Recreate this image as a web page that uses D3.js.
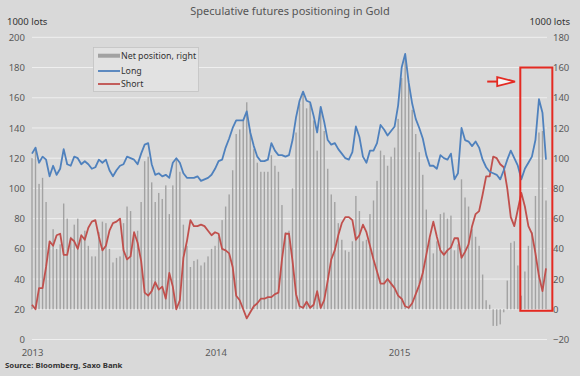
<!DOCTYPE html>
<html><head><meta charset="utf-8">
<script src="https://cdn.jsdelivr.net/npm/d3@7"></script>
<style>
html,body{margin:0;padding:0;background:#d9d9d9;}
svg{display:block;}
text{font-family:"Noto Sans",sans-serif;}
</style></head><body>
<svg id="chart" width="580" height="376"></svg>
<script>
// ---------------- data ----------------
const chartTitle = "Speculative futures positioning in Gold";
const leftUnit = "1000 lots";
const rightUnit = "1000 lots";
const sourceText = "Source: Bloomberg, Saxo Bank";
const firstWeek = "2013-01-01";   // weekly observations start here
const yearLabels = ["2013", "2014", "2015"];
const leftTicks = [0, 20, 40, 60, 80, 100, 120, 140, 160, 180, 200];
const rightTicks = [-20, 0, 20, 40, 60, 80, 100, 120, 140, 160, 180];
const seriesNames = ["Net position, right", "Long", "Short"];

const longPos = [123,127,117,121,119,108,115,109,113,126,
116,115,121,120,116,118,116,113,114,119,
117,119,112,108,112,115,116,121,120,119,
116,123,129,130,116,109,110,108,109,107,
117,120,117,110,107,107,107,108,105,106,
107,109,113,118,119,127,133,140,145,145,
145,151,137,128,121,118,118,119,130,125,
122,122,121,122,132,147,158,164,158,157,
148,137,154,144,132,129,130,126,123,120,
119,124,141,134,121,117,125,125,130,142,
139,135,138,141,155,180,189,170,156,146,
140,133,122,115,115,113,122,120,119,123,
106,110,140,132,131,128,131,127,119,114,
111,110,109,106,112,119,125,120,115,106,
113,117,121,132,159,150,119];

const shortPos = [23,20,34,34,48,65,62,69,70,56,
56,67,65,60,69,66,74,78,79,68,
59,62,72,77,78,80,59,53,55,71,
64,52,31,29,32,38,33,35,27,44,
35,20,26,54,65,79,75,75,76,75,
72,69,71,70,60,59,57,48,29,26,
20,14,18,22,24,27,27,28,28,30,
31,53,70,70,52,30,22,21,25,21,
23,32,21,26,39,53,59,69,77,81,
81,79,66,69,76,71,62,53,45,37,
37,40,37,34,29,27,22,21,24,30,
36,44,56,68,78,68,59,56,59,61,
67,67,54,58,63,75,83,85,96,108,
108,121,120,116,114,100,81,75,86,97,
88,75,70,57,42,32,47];

const netPos = [100,107,83,87,71,43,53,40,43,70,
60,48,56,60,47,52,42,35,35,51,
58,57,40,31,34,35,57,68,65,48,
52,71,98,101,84,71,77,73,82,63,
82,100,91,56,42,28,32,33,29,31,
35,40,42,48,59,68,76,92,116,119,
125,137,119,106,97,91,91,91,102,95,
91,69,51,52,80,117,136,143,133,136,
125,105,133,118,93,76,71,57,46,39,
38,45,75,65,45,46,63,72,85,105,
102,95,101,107,126,153,167,149,132,116,
104,89,66,47,37,45,63,64,60,62,
39,43,86,74,68,53,48,42,23,6,
3,-11,-11,-10,-2,19,44,45,29,9,
25,42,51,75,117,118,72];

// highlight annotation (in data units: week index / right-axis value)
const boxWeeks = [138.7, 147.8];
const boxRight = [-1, 160];
const arrowWeeks = [129.3, 137.2];
const arrowRight = 150.7;

// ---------------- drawing ----------------
const W = 580, H = 376;
const svg = d3.select("#chart");
const bg = "#d9d9d9";
svg.append("rect").attr("width", W).attr("height", H).attr("fill", bg);

const t0 = new Date(firstWeek + "T00:00:00Z");
const dates = longPos.map((_, i) => new Date(t0.getTime() + i * 7 * 864e5));
const x = d3.scaleUtc().domain([dates[0], dates[dates.length - 1]]).range([32, 546]);
const weekX = w => x(new Date(t0.getTime() + w * 7 * 864e5));
const yL = d3.scaleLinear().domain([0, 200]).range([339.5, 37.3]);
const yR = d3.scaleLinear().domain([-20, 180]).range([339.5, 37.3]);

// gridlines
svg.append("g").selectAll("line").data(leftTicks).join("line")
  .attr("x1", 32).attr("x2", 547)
  .attr("y1", d => yL(d)).attr("y2", d => yL(d))
  .attr("stroke", "#efefef").attr("stroke-width", 1);

// axes
const axL = svg.append("g").attr("transform", "translate(26,0)")
  .call(d3.axisLeft(yL).tickValues(leftTicks).tickSize(0).tickPadding(1));
const axR = svg.append("g").attr("transform", "translate(552,0)")
  .call(d3.axisRight(yR).tickValues(rightTicks).tickSize(0).tickPadding(1));
const yearDates = yearLabels.map(y => new Date(y + "-01-01T00:00:00Z"));
const axB = svg.append("g").attr("transform", "translate(0,340)")
  .call(d3.axisBottom(x).tickValues(yearDates).tickFormat(d3.utcFormat("%Y")).tickSize(0).tickPadding(9));
[axL, axR, axB].forEach(g => {
  g.select(".domain").remove();
  g.selectAll("text").attr("font-family", '"Noto Sans",sans-serif')
    .attr("font-size", 9.5).attr("fill", "#5a5a5a");
});

// bars (net, right axis)
svg.append("g").selectAll("rect").data(netPos).join("rect")
  .attr("x", (d, i) => x(dates[i]) - 0.7)
  .attr("width", 1.4)
  .attr("y", d => yR(Math.max(0, d)))
  .attr("height", d => Math.abs(yR(d) - yR(0)))
  .attr("fill", "#a2a2a2");

// lines (left axis)
const line = d3.line().x((d, i) => x(dates[i])).y(d => yL(d)).curve(d3.curveLinear);
svg.append("path").datum(shortPos).attr("d", line)
  .attr("fill", "none").attr("stroke", "#c0504d").attr("stroke-width", 1.8)
  .attr("stroke-linejoin", "round");
svg.append("path").datum(longPos).attr("d", line)
  .attr("fill", "none").attr("stroke", "#4f81bd").attr("stroke-width", 1.8)
  .attr("stroke-linejoin", "round");

// title, units, source
svg.append("text").attr("x", 290).attr("y", 15).attr("text-anchor", "middle")
  .attr("font-size", 11).attr("fill", "#555").text(chartTitle);
svg.append("text").attr("x", 7).attr("y", 24.5)
  .attr("font-size", 9.5).attr("fill", "#333").text(leftUnit);
svg.append("text").attr("x", 570).attr("y", 24.5).attr("text-anchor", "end")
  .attr("font-size", 9.5).attr("fill", "#333").text(rightUnit);
svg.append("text").attr("x", 5).attr("y", 367.5)
  .attr("font-size", 7.8).attr("font-weight", "bold").attr("fill", "#333").text(sourceText);

// legend
const lg = svg.append("g");
lg.append("rect").attr("x", 93.5).attr("y", 47.5).attr("width", 105).attr("height", 44)
  .attr("fill", "#e2e2e2").attr("stroke", "#c2c2c2").attr("stroke-width", 0.8);
const lgItems = [
  {name: seriesNames[0], type: "bar", color: "#a2a2a2", y: 55.7},
  {name: seriesNames[1], type: "line", color: "#4f81bd", y: 71},
  {name: seriesNames[2], type: "line", color: "#c0504d", y: 84}
];
lgItems.forEach(it => {
  if (it.type === "bar") {
    lg.append("rect").attr("x", 98).attr("y", it.y - 2).attr("width", 22).attr("height", 4).attr("fill", it.color);
  } else {
    lg.append("line").attr("x1", 98).attr("x2", 120).attr("y1", it.y).attr("y2", it.y)
      .attr("stroke", it.color).attr("stroke-width", 1.8);
  }
  lg.append("text").attr("x", 121).attr("y", it.y + 3.2).attr("font-size", 8.8)
    .attr("fill", "#333").text(it.name);
});

// annotation: red box and arrow
const bx0 = weekX(boxWeeks[0]), bx1 = weekX(boxWeeks[1]);
const by0 = yR(boxRight[1]), by1 = yR(boxRight[0]);
svg.append("rect").attr("x", bx0).attr("y", by0).attr("width", bx1 - bx0).attr("height", by1 - by0)
  .attr("fill", "none").attr("stroke", "#e42a22").attr("stroke-width", 2);
const ax0 = weekX(arrowWeeks[0]), ax1 = weekX(arrowWeeks[1]), ay = yR(arrowRight);
svg.append("line").attr("x1", ax0).attr("x2", ax0 + 10).attr("y1", ay).attr("y2", ay)
  .attr("stroke", "#e42a22").attr("stroke-width", 2);
svg.append("path")
  .attr("d", `M${ax0 + 10},${ay - 4.5} L${ax1},${ay} L${ax0 + 10},${ay + 4.5} Z`)
  .attr("fill", "#f4f4f4").attr("stroke", "#e42a22").attr("stroke-width", 1.8)
  .attr("stroke-linejoin", "miter");
</script>
</body></html>
